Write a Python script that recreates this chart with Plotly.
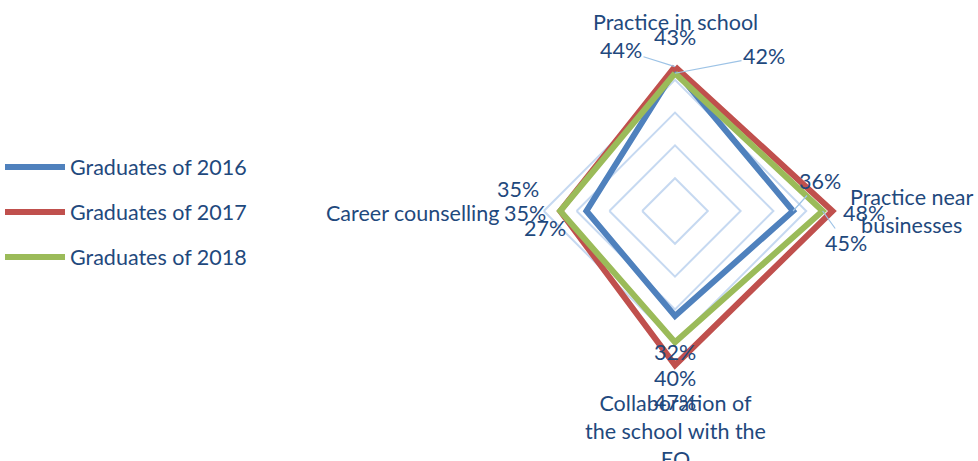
import plotly.graph_objects as go

# Categories (clockwise from the top) and survey shares in percent
categories = [
    "Practice in school",
    "Practice near businesses",
    "Collaboration of the school with the EO",
    "Career counselling",
]
category_labels = [
    "Practice in school",
    "Practice near<br>businesses",
    "Collaboration of<br>the school with the<br>EO",
    "Career counselling",
]
series_names = ["Graduates of 2016", "Graduates of 2017", "Graduates of 2018"]
values_2016 = [43, 36, 32, 27]
values_2017 = [44, 48, 47, 35]
values_2018 = [42, 45, 40, 35]

colors = ["#4F81BD", "#C0504D", "#9BBB59"]
text_color = "#1F497D"
font_family = "Lato, 'Open Sans', sans-serif"
font_size = 21.5
W, H = 978, 461

# polar area in pixels
cx, cy, R = 675, 211, 164
r_max = 50
dom_x = [(cx - R) / W, (cx + R) / W]
dom_y = [(H - (cy + R)) / H, (H - (cy - R)) / H]

fig = go.Figure()
all_values = [values_2016, values_2017, values_2018]
for i, (name, vals) in enumerate(zip(series_names, all_values)):
    fig.add_trace(go.Scatterpolar(
        r=vals + vals[:1],
        theta=categories + categories[:1],
        mode="lines",
        name=name,
        legendgroup=name,
        line=dict(color=colors[i], width=6),
        hoverinfo="skip",
    ))

# data-label offsets (px) per category per series, with leader-line flag
label_offsets = {
    0: [(0, -33, False), (-54, -17, True), (89, -17, True)],
    1: [(27, -30, True), (32, 2, False), (23, 32, True)],
    2: [(0, 36, False), (0, 37, False), (0, 36, False)],
    3: [(-41, 17, False), (-42, -22, False), (-35, 2, False)],
}
# screen direction of each category spoke
directions = [(0, -1), (1, 0), (0, 1), (-1, 0)]

annotations = []
for k in range(len(categories)):
    dx, dy = directions[k]
    for s, vals in enumerate(all_values):
        v = vals[k]
        px = cx + dx * v / r_max * R
        py = cy + dy * v / r_max * R
        ox, oy, leader = label_offsets[k][s]
        annotations.append(dict(
            x=px / W, y=(H - py) / H, xref="paper", yref="paper",
            text=f"{v}%", showarrow=True, ax=ox, ay=oy,
            arrowhead=0, arrowwidth=1.2,
            arrowcolor="#9DC3E6" if leader else "rgba(0,0,0,0)",
            font=dict(size=font_size, color=text_color, family=font_family),
        ))

# category names around the outer ring
cat_pos = [
    (675, 22, "center", "middle"),
    (848, 211, "left", "middle"),
    (675, 388, "center", "top"),
    (501, 213, "right", "middle"),
]
for label, (x, y, xa, ya) in zip(category_labels, cat_pos):
    annotations.append(dict(
        x=x / W, y=(H - y) / H, xref="paper", yref="paper",
        text=label, showarrow=False, xanchor=xa, yanchor=ya, align="center",
        font=dict(size=font_size, color=text_color, family=font_family),
    ))

fig.update_layout(
    width=W, height=H,
    margin=dict(l=0, r=0, t=0, b=0),
    paper_bgcolor="white",
    font=dict(family=font_family, size=font_size, color=text_color),
    polar=dict(
        domain=dict(x=dom_x, y=dom_y),
        bgcolor="white",
        gridshape="linear",
        radialaxis=dict(
            range=[0, r_max], dtick=10, showticklabels=False, ticks="",
            showline=False, gridcolor="#C6D9F1", gridwidth=1.5,
        ),
        angularaxis=dict(
            rotation=90, direction="clockwise",
            showticklabels=False,
            showgrid=False, showline=False, ticks="",
        ),
    ),
    legend=dict(
        x=0.0, y=0.54, xanchor="left", yanchor="middle",
        font=dict(size=font_size, color=text_color, family=font_family),
        tracegroupgap=14, itemwidth=60,
        bgcolor="rgba(0,0,0,0)",
    ),
    annotations=annotations,
)

fig.write_html("out.html")
